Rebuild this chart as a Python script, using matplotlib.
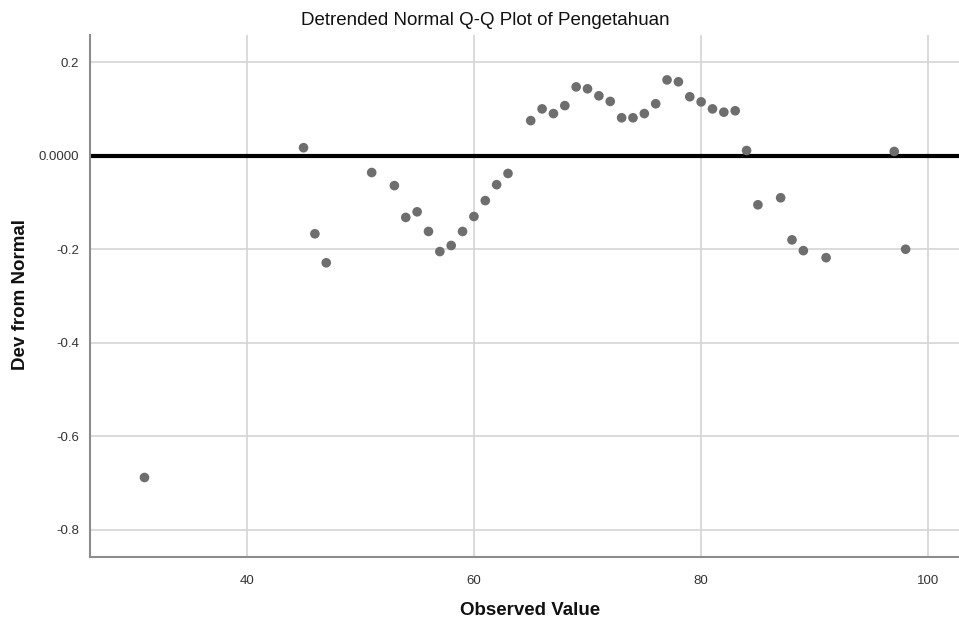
import matplotlib
matplotlib.use("Agg")
import matplotlib.pyplot as plt
from matplotlib.ticker import FixedLocator, FixedFormatter

# observed values and their deviation from normal
observed = [31, 45, 46, 47, 51, 53, 54, 55, 56, 57, 58, 59, 60, 61, 62, 63,
            65, 66, 67, 68, 69, 70, 71, 72, 73, 74, 75, 76, 77, 78, 79, 80,
            81, 82, 83, 84, 85, 87, 88, 89, 91, 97, 98]
deviation = [-0.688, 0.017, -0.167, -0.229, -0.036, -0.064, -0.132, -0.120,
             -0.162, -0.205, -0.192, -0.162, -0.130, -0.096, -0.062, -0.038,
             0.075, 0.100, 0.090, 0.107, 0.147, 0.143, 0.128, 0.116, 0.081,
             0.081, 0.090, 0.111, 0.162, 0.158, 0.126, 0.115, 0.100, 0.093,
             0.096, 0.011, -0.105, -0.090, -0.180, -0.203, -0.218, 0.009, -0.200]

x_ticks = [40, 60, 80, 100]
y_ticks = [0.2, 0.0, -0.2, -0.4, -0.6, -0.8]
y_tick_labels = ["0.2", "0.0000", "-0.2", "-0.4", "-0.6", "-0.8"]

font = ["Liberation Sans", "DejaVu Sans"]

fig = plt.figure(figsize=(9.59, 6.27), dpi=100)
ax = fig.add_axes([0.0938, 0.1116, 0.9062, 0.8326])

ax.grid(True, color="#d4d4d4", linewidth=1.2, zorder=0)
ax.axhline(0, color="black", linewidth=3, zorder=2)
ax.scatter(observed, deviation, s=48, color="#6e6e6e", edgecolors="none", zorder=3)

ax.set_xlim(26.2, 102.7)
ax.set_ylim(-0.858, 0.258)
ax.xaxis.set_major_locator(FixedLocator(x_ticks))
ax.yaxis.set_major_locator(FixedLocator(y_ticks))
ax.yaxis.set_major_formatter(FixedFormatter(y_tick_labels))

for side in ["top", "right"]:
    ax.spines[side].set_visible(False)
for side in ["left", "bottom"]:
    ax.spines[side].set_color("#8c8c8c")
    ax.spines[side].set_linewidth(1.5)

ax.tick_params(length=0, labelsize=9.5, labelcolor="#333333", pad=8)
for lab in ax.get_xticklabels() + ax.get_yticklabels():
    lab.set_family(font)
ax.tick_params(axis="x", pad=13)

fig.text(0.506, 0.968, "Detrended Normal Q-Q Plot of Pengetahuan", ha="center",
         va="center", fontsize=13.5, family=font, color="#111111")
fig.text(0.553, 0.027, "Observed Value", ha="center", va="center",
         fontsize=13.5, fontweight="bold", family=font, color="#111111")
fig.text(0.021, 0.53, "Dev from Normal", ha="center", va="center", rotation=90,
         fontsize=13.5, fontweight="bold", family=font, color="#111111")

fig.savefig("out.png", dpi=100)
